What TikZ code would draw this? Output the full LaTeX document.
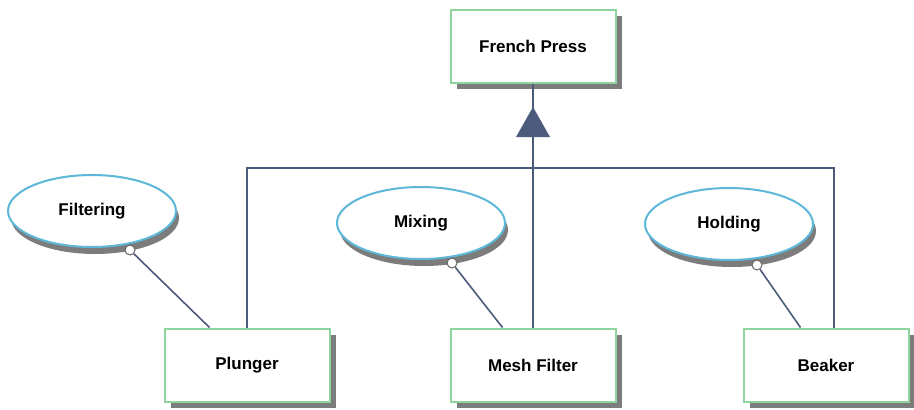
\documentclass[tikz,border=0pt]{standalone}
\usepackage{fontspec}
\setmainfont{Liberation Sans}
\usetikzlibrary{shapes.geometric,shadows}

\definecolor{boxgreen}{HTML}{8FD39E}
\definecolor{ellblue}{HTML}{5DB7D9}
\definecolor{linkblue}{HTML}{4C5A7B}
\definecolor{shadegray}{HTML}{7C7C7C}

\begin{document}
\begin{tikzpicture}[x=1pt,y=-1pt,
    block/.style={rectangle, draw=boxgreen, line width=2pt, fill=white,
        minimum width=165pt, minimum height=73pt,
        font=\fontsize{17}{20}\selectfont\bfseries,
        drop shadow={shadow xshift=6pt, shadow yshift=-6pt, fill=shadegray, opacity=1}},
    func/.style={ellipse, draw=ellblue, line width=2pt, fill=white, inner sep=0pt,
        minimum width=168pt, minimum height=72pt,
        font=\fontsize{17}{20}\selectfont\bfseries,
        drop shadow={shadow xshift=3pt, shadow yshift=-7pt, fill=shadegray, opacity=1}},
    port/.style={circle, draw=gray!80!black, line width=1pt, fill=white,
        minimum size=10pt, inner sep=0pt},
    link/.style={draw=linkblue, line width=1.6pt}]
        \useasboundingbox (0,0) rectangle (914,410);

        % Whole and parts
        \node[block] (press) at (533,46) {French Press};
        \node[block] (plunger) at (247,365) {Plunger};
        \node[block] (mesh) at (533,365) {Mesh Filter};
        \node[block] (beaker) at (826,365) {Beaker};

        % Functions
        \node[func] (filtering) at (92,211) {Filtering};
        \node[func] (mixing) at (421,223) {Mixing};
        \node[func] (holding) at (729,224) {Holding};

        % Aggregation
        \coordinate (barL) at (247,168);
        \coordinate (barR) at (834,168);
        \coordinate (tip) at (533,107);
        \draw[link] (press.south) -- (mesh.north);
        \draw[link] (plunger.north) -- (barL) -- (barR) -- (barR |- beaker.north);
        \fill[linkblue] (tip) -- ++(-17,30) -- ++(34,0) -- cycle;

        % Function links
        \node[port] (fport) at (130,250) {};
        \node[port] (mport) at (452,263) {};
        \node[port] (hport) at (757,265) {};
        \draw[link] (fport) -- ([xshift=46pt]plunger.north west);
        \draw[link] (mport) -- ([xshift=53pt]mesh.north west);
        \draw[link] (hport) -- ([xshift=58pt]beaker.north west);
    \end{tikzpicture}
\end{document}
